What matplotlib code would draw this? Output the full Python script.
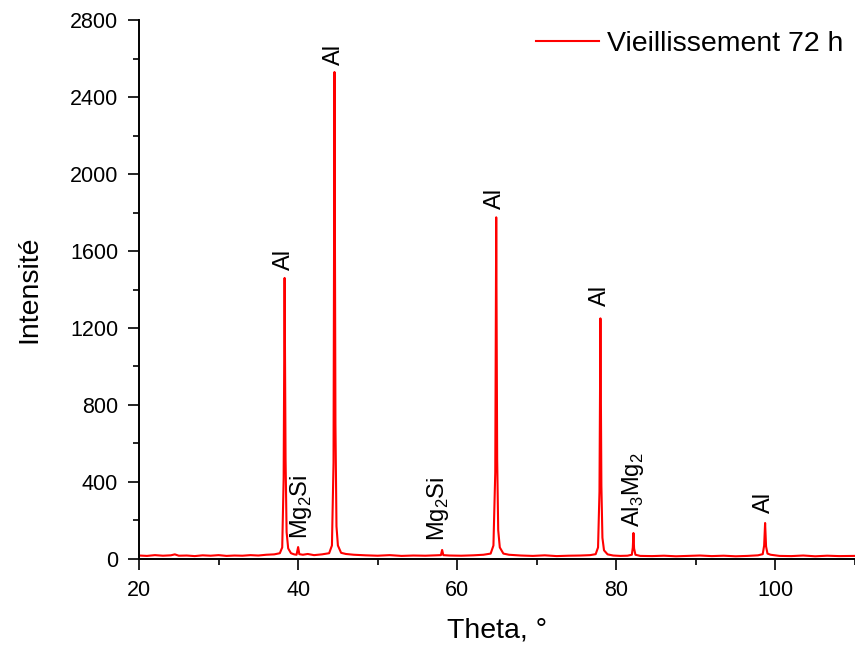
import matplotlib.pyplot as plt
from matplotlib.ticker import MultipleLocator

plt.rcParams['font.family'] = ['Liberation Sans', 'DejaVu Sans']
plt.rcParams['mathtext.fontset'] = 'custom'
plt.rcParams['mathtext.rm'] = 'Liberation Sans'

# XRD pattern (theta in degrees, intensity)
theta = [20.0, 21.0, 22.0, 23.0, 24.0, 24.5, 25.0, 26.0, 27.0, 28.0, 29.0, 30.0,
         31.0, 32.0, 33.0, 34.0, 35.0, 36.0, 37.0,
         37.7, 38.0, 38.18, 38.3, 38.42, 38.55, 38.75, 39.1,
         39.5, 39.8, 40.0, 40.15, 40.6, 41.2, 42.0, 43.0,
         43.9, 44.25, 44.45, 44.57, 44.69, 44.82, 45.0, 45.4,
         46.0, 47.0, 48.5, 50.0, 51.5, 53.0, 54.5, 56.0, 57.3,
         57.95, 58.1, 58.25, 59.0, 60.5, 62.0, 63.3,
         64.2, 64.55, 64.78, 64.9, 65.02, 65.15, 65.35, 65.8,
         66.5, 68.0, 69.5, 71.0, 72.5, 74.0, 75.5, 76.7,
         77.4, 77.7, 77.88, 78.0, 78.12, 78.25, 78.45, 78.9,
         79.6, 80.5, 81.4, 81.95, 82.07, 82.15, 82.23, 82.4,
         83.0, 84.5, 86.0, 87.5, 89.0, 90.5, 92.0, 93.5, 95.0, 96.5, 97.8,
         98.4, 98.58, 98.7, 98.82, 99.0, 99.4,
         100.5, 102.0, 103.5, 105.0, 106.5, 108.0, 110.0]
intensity = [18, 16, 20, 17, 19, 24, 17, 18, 15, 19, 17, 20,
             16, 18, 17, 20, 18, 22, 24,
             30, 60, 420, 1460, 520, 140, 55, 30,
             24, 22, 62, 25, 22, 26, 20, 24,
             30, 70, 500, 2530, 700, 170, 70, 32,
             26, 22, 19, 17, 20, 16, 18, 17, 19,
             20, 47, 20, 18, 17, 19, 22,
             28, 70, 450, 1775, 520, 150, 60, 28,
             22, 18, 16, 19, 15, 17, 18, 20,
             25, 60, 350, 1250, 380, 110, 45, 24,
             18, 16, 17, 22, 60, 135, 55, 22,
             16, 15, 17, 14, 16, 18, 15, 17, 14, 16, 19,
             25, 70, 187, 65, 28, 22,
             16, 15, 18, 14, 17, 15, 16]

# peak labels: text, theta, bottom of text (intensity units)
label_text = ['Al', r'Mg$_\mathregular{2}$Si', 'Al', r'Mg$_\mathregular{2}$Si', 'Al', 'Al',
              r'Al$_\mathregular{3}$Mg$_\mathregular{2}$', 'Al']
label_x = [38.2, 40.4, 44.5, 57.6, 64.8, 77.9, 82.1, 98.6]
label_y = [1500, 105, 2565, 92, 1820, 1315, 165, 240]

fig = plt.figure(figsize=(8.55, 6.46), dpi=100)
ax = fig.add_axes([0.1626, 0.1347, 0.8374, 0.8343])

ax.plot(theta, intensity, color='#ff0000', lw=1.5, label='Vieillissement 72 h')

for t, x, y in zip(label_text, label_x, label_y):
    ax.text(x, y, t, rotation=90, ha='center', va='bottom', fontsize=17)

ax.set_xlim(20, 110)
ax.set_ylim(0, 2800)
ax.xaxis.set_major_locator(MultipleLocator(20))
ax.xaxis.set_minor_locator(MultipleLocator(10))
ax.yaxis.set_major_locator(MultipleLocator(400))
ax.yaxis.set_minor_locator(MultipleLocator(200))
ax.tick_params(which='major', direction='out', length=8, width=1.2, labelsize=15.5, pad=7)
ax.tick_params(which='minor', direction='out', length=4, width=1.2)
ax.spines['top'].set_visible(False)
ax.spines['right'].set_visible(False)
ax.spines['left'].set_linewidth(1.4)
ax.spines['bottom'].set_linewidth(1.4)

ax.set_xlabel('Theta, °', fontsize=20.5, labelpad=12)
ax.set_ylabel('Intensité', fontsize=20.5, labelpad=20)

ax.legend(loc='upper right', frameon=False, fontsize=20.5, handlelength=2.2,
          borderaxespad=0.0, handletextpad=0.3)

fig.savefig('out.png', dpi=100)
